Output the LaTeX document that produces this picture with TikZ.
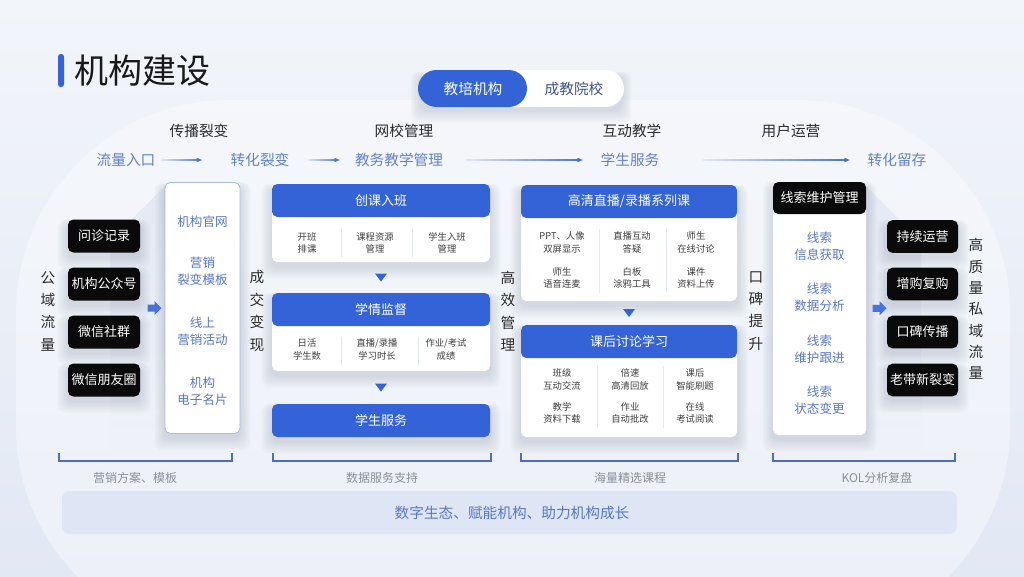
\documentclass[tikz,border=0pt]{standalone}
\usepackage{fontspec}
\setmainfont{Noto Sans CJK SC}
\usetikzlibrary{fadings,calc,arrows.meta}
\definecolor{bluehead}{HTML}{3463D8}
\definecolor{bluetext}{HTML}{5877C6}
\definecolor{bluerow}{HTML}{6282CB}
\definecolor{bluearrow}{HTML}{4A6FCF}
\definecolor{darktext}{HTML}{2B2B2B}
\definecolor{smalltext}{HTML}{3E3E3E}
\definecolor{graytext}{HTML}{8A8F99}
\definecolor{blackbox}{HTML}{0A0A0A}
\definecolor{bgtop}{HTML}{F2F5FA}
\definecolor{bgbot}{HTML}{E2E8F4}
\definecolor{bandfill}{HTML}{DCE4F5}
\definecolor{sepline}{HTML}{E4E8F0}
\definecolor{bracketcol}{HTML}{4D6CC2}
\definecolor{borderlight}{HTML}{A9BBE4}
\definecolor{toggletext}{HTML}{42538A}
\definecolor{longshadow}{HTML}{B3C0DC}
\definecolor{shadowcol}{HTML}{1E2A55}
\tikzfading[name=fadein, left color=transparent!90, right color=transparent!0]
\tikzfading[name=fadedown, top color=transparent!20, bottom color=transparent!100]
% soft shadow: centre x, centre y, width, height (all in px)
\newcommand\myshadow[4]{%
  \foreach \k in {1,...,7}{%
    \fill[shadowcol, opacity=0.018, rounded corners=6pt]
      ({#1-#3/2-\k*1.5},{#2-#4/2-\k*0.6+4}) rectangle ({#1+#3/2+\k*1.5},{#2+#4/2+\k*1.8+4});
  }}
\begin{document}
\begin{tikzpicture}[x=0.75pt,y=-0.75pt,
  every node/.style={inner sep=0pt, outer sep=0pt},
  hd/.style={text=darktext, font=\fontsize{11}{13}\selectfont},
  flow/.style={text=bluerow, font=\fontsize{11}{13}\selectfont},
  flowarrow/.style={draw=bluearrow, line width=0.9pt, -{Latex[length=4.5pt,width=4pt]}, path fading=fadein},
  vlabel/.style={text=darktext, align=center, font=\fontsize{11}{16.8}\selectfont},
  blk/.style={fill=blackbox, text=white, rounded corners=4pt, minimum width=54pt, minimum height=24.75pt, font=\fontsize{9.75}{12}\selectfont},
  whitecol/.style={fill=white, rounded corners=4pt},
  bluelist/.style={text=bluetext, align=center, font=\fontsize{9.4}{12.6}\selectfont},
  cardhead/.style={fill=bluehead, text=white, rounded corners=4pt, font=\fontsize{9.75}{12}\selectfont},
  sm/.style={text=smalltext, align=center, font=\fontsize{7}{9.5}\selectfont},
  sep/.style={draw=sepline, line width=0.6pt},
  tri/.style={fill=bluehead},
  fatarrow/.style={fill=bluehead!90!white},
  brk/.style={draw=bracketcol, line width=0.8pt},
  glabel/.style={text=graytext, font=\fontsize{9}{11}\selectfont}
]
% background
\useasboundingbox (0,0) rectangle (1024,576);
\shade[top color=bgtop, bottom color=bgbot] (0,0) rectangle (1024,576);
\fill[white, opacity=0.38, rounded corners=160pt] (16,100) rectangle (1010,640);

% long shadows behind the side columns
\fill[longshadow, opacity=0.28, path fading=fadedown] (165,186) -- (110,241) -- (110,450) -- (165,450) -- cycle;
\fill[longshadow, opacity=0.28, path fading=fadedown] (866,186) -- (921,241) -- (921,450) -- (866,450) -- cycle;

% title
\fill[bluehead, rounded corners=2pt] (58,54) rectangle (64,87);
\node[anchor=west, text=black!90, font=\fontsize{25.5}{28}\selectfont] (title) at (74,71) {机构建设};

% toggle
\myshadow{521}{89}{200}{34}
\node[fill=white, rounded corners=13.8pt, minimum width=154.5pt, minimum height=27.75pt] (toggle) at (521,88.5) {};
\node[fill=bluehead, rounded corners=13.8pt, minimum width=81.75pt, minimum height=27.75pt] (tgA) at (472.5,88.5) {};
\node[text=white, font=\fontsize{11}{13}\selectfont] (tgAt) at (473,89) {教培机构};
\node[text=toggletext, font=\fontsize{11}{13}\selectfont] (tgBt) at (574,89) {成教院校};

% headers
\node[hd] (h1) at (199,131) {传播裂变};
\node[hd] (h2) at (404,131) {网校管理};
\node[hd] (h3) at (632,131) {互动教学};
\node[hd] (h4) at (791,131) {用户运营};

% flow row
\node[flow] (f1) at (126,160) {流量入口};
\node[flow] (f2) at (260,160) {转化裂变};
\node[flow] (f3) at (399,160) {教务教学管理};
\node[flow] (f4) at (630,160) {学生服务};
\node[flow] (f5) at (897,160) {转化留存};
\draw[flowarrow] ([xshift=4.5pt]f1.east) -- ([xshift=-21pt]f2.west);
\draw[flowarrow] ([xshift=14pt]f2.east) -- ([xshift=-11pt]f3.west);
\draw[flowarrow] ([xshift=17pt]f3.east) -- ([xshift=-13pt]f4.west);
\draw[flowarrow] ([xshift=33pt]f4.east) -- ([xshift=-13pt]f5.west);

% vertical labels
\node[vlabel] (v1) at (48,311) {公\\域\\流\\量};
\node[vlabel] (v2) at (257,311) {成\\交\\变\\现};
\node[vlabel] (v3) at (508,311) {高\\效\\管\\理};
\node[vlabel] (v4) at (756,311) {口\\碑\\提\\升};
\node[vlabel, font=\fontsize{11}{16}\selectfont] (v5) at (976,309) {高\\质\\量\\私\\域\\流\\量};

% left black boxes
\myshadow{104}{236}{72}{33}
\myshadow{104}{284}{72}{33}
\myshadow{104}{332}{72}{33}
\myshadow{104}{380}{72}{33}
\node[blk] (l1) at (104,236) {问诊记录};
\node[blk] (l2) at (104,284) {机构公众号};
\node[blk] (l3) at (104,332) {微信社群};
\node[blk] (l4) at (104,380) {微信朋友圈};

% left white column
\myshadow{202.5}{308}{75}{251}
\node[whitecol, draw=borderlight, line width=0.6pt, minimum width=56.25pt, minimum height=188.25pt] (wc1) at (202.5,308) {};
\node[bluelist] (w11) at (202.5,222) {机构官网};
\node[bluelist] (w12) at (202.5,271.5) {营销\\裂变模板};
\node[bluelist] (w13) at (202.5,331) {线上\\营销活动};
\node[bluelist] (w14) at (202.5,391) {机构\\电子名片};

% fat arrow left
\coordinate (la) at ($(l2.east)!0.5!(wc1.west)+(2,12)$);
\fill[fatarrow] ($(la)+(-7,-3.5)$) -- ($(la)+(0,-3.5)$) -- ($(la)+(0,-7)$) -- ($(la)+(7,0)$) -- ($(la)+(0,7)$) -- ($(la)+(0,3.5)$) -- ($(la)+(-7,3.5)$) -- cycle;

% column 1 cards
\myshadow{381}{223}{218}{78}
\myshadow{381}{332}{218}{78}
\myshadow{381}{420.5}{218}{33}
\node[whitecol, minimum width=163.5pt, minimum height=58.5pt] (c1) at (381,223) {};
\node[cardhead, minimum width=163.5pt, minimum height=24.75pt] (c1h) at (381,200.5) {创课入班};
\node[sm] (c1a) at (307,243) {开班\\排课};
\node[sm] (c1b) at (375,243) {课程资源\\管理};
\node[sm] (c1c) at (447,243) {学生入班\\管理};
\draw[sep] (341,229) -- (341,257);
\draw[sep] (412,229) -- (412,257);

\node[whitecol, minimum width=163.5pt, minimum height=58.5pt] (c2) at (381,332) {};
\node[cardhead, minimum width=163.5pt, minimum height=24.75pt] (c2h) at (381,309.5) {学情监督};
\node[sm] (c2a) at (307,349.5) {日活\\学生数};
\node[sm] (c2b) at (377,349.5) {直播/录播\\学习时长};
\node[sm] (c2c) at (446,349.5) {作业/考试\\成绩};
\draw[sep] (341,337) -- (341,366);
\draw[sep] (418,337) -- (418,366);

\node[cardhead, minimum width=163.5pt, minimum height=24.75pt] (c3h) at (381,420.5) {学生服务};

\path (c1.south) -- (c2h.north) coordinate[midway] (t1);
\path (c2.south) -- (c3h.north) coordinate[midway] (t2);
\fill[tri] ($(t1)+(-6,-4)$) -- ($(t1)+(6,-4)$) -- ($(t1)+(0,4)$) -- cycle;
\fill[tri] ($(t2)+(-6,-4)$) -- ($(t2)+(6,-4)$) -- ($(t2)+(0,4)$) -- cycle;

% column 2 cards
\myshadow{629}{243}{216}{116}
\myshadow{629}{381}{216}{112}
\node[whitecol, minimum width=162pt, minimum height=87pt] (d1) at (629,243) {};
\node[cardhead, minimum width=162pt, minimum height=24.75pt] (d1h) at (629,201.5) {高清直播/录播系列课};
\node[sm] (d1a) at (562,242.5) {PPT、人像\\双屏显示};
\node[sm] (d1b) at (632,242.5) {直播互动\\答疑};
\node[sm] (d1c) at (696,242.5) {师生\\在线讨论};
\node[sm] (d1d) at (562,278) {师生\\语音连麦};
\node[sm] (d1e) at (632,278) {白板\\涂鸦工具};
\node[sm] (d1f) at (696,278) {课件\\资料上传};
\draw[sep] (599,229) -- (599,293);
\draw[sep] (666,229) -- (666,293);

\node[whitecol, minimum width=162pt, minimum height=84pt] (d2) at (629,381) {};
\node[cardhead, minimum width=162pt, minimum height=24.75pt] (d2h) at (629,341.5) {课后讨论学习};
\node[sm] (d2a) at (562,379.5) {班级\\互动交流};
\node[sm] (d2b) at (630,379.5) {倍速\\高清回放};
\node[sm] (d2c) at (695,379.5) {课后\\智能刷题};
\node[sm] (d2d) at (562,413) {教学\\资料下载};
\node[sm] (d2e) at (630,413) {作业\\自动批改};
\node[sm] (d2f) at (695,413) {在线\\考试阅读};
\draw[sep] (597,366) -- (597,428);
\draw[sep] (663,366) -- (663,428);

\path (d1.south) -- (d2h.north) coordinate[midway] (t3);
\fill[tri] ($(t3)+(-6,-4)$) -- ($(t3)+(6,-4)$) -- ($(t3)+(0,4)$) -- cycle;

% right white column
\myshadow{819.5}{308.5}{93}{253}
\node[whitecol, minimum width=69.75pt, minimum height=189.75pt] (wc2) at (819.5,308.5) {};
\node[fill=blackbox, text=white, rounded corners=4pt, minimum width=69.75pt, minimum height=24pt, font=\fontsize{9.75}{12}\selectfont] (wc2h) at (819.5,198) {线索维护管理};
\node[bluelist, font=\fontsize{9.4}{12.75}\selectfont] (w21) at (819.5,246.5) {线索\\信息获取};
\node[bluelist, font=\fontsize{9.4}{12.75}\selectfont] (w22) at (819.5,297.5) {线索\\数据分析};
\node[bluelist, font=\fontsize{9.4}{12.75}\selectfont] (w23) at (819.5,349.5) {线索\\维护跟进};
\node[bluelist, font=\fontsize{9.4}{12.75}\selectfont] (w24) at (819.5,400) {线索\\状态变更};

% right black boxes
\myshadow{922.5}{236.5}{71}{32.5}
\myshadow{922.5}{284}{71}{32.5}
\myshadow{922.5}{332}{71}{32.5}
\myshadow{922.5}{380}{71}{32.5}
\node[blk, minimum width=53.25pt, minimum height=24.4pt] (r1) at (922.5,236.5) {持续运营};
\node[blk, minimum width=53.25pt, minimum height=24.4pt] (r2) at (922.5,284) {增购复购};
\node[blk, minimum width=53.25pt, minimum height=24.4pt] (r3) at (922.5,332) {口碑传播};
\node[blk, minimum width=53.25pt, minimum height=24.4pt] (r4) at (922.5,380) {老带新裂变};

% fat arrow right
\coordinate (ra) at ($(wc2.east)!0.5!(r2.west)+(3,12)$);
\fill[fatarrow] ($(ra)+(-7,-3.5)$) -- ($(ra)+(0,-3.5)$) -- ($(ra)+(0,-7)$) -- ($(ra)+(7,0)$) -- ($(ra)+(0,7)$) -- ($(ra)+(0,3.5)$) -- ($(ra)+(-7,3.5)$) -- cycle;

% brackets
\draw[brk] (59,453) -- (59,461) -- (232,461) -- (232,453);
\draw[brk] (273,453) -- (273,461) -- (491,461) -- (491,453);
\draw[brk] (521,453) -- (521,461) -- (738,461) -- (738,453);
\draw[brk] (773,453) -- (773,461) -- (955,461) -- (955,453);
\node[glabel] (g1) at (135,478) {营销方案、模板};
\node[glabel] (g2) at (382,478) {数据服务支持};
\node[glabel] (g3) at (630,478) {海量精选课程};
\node[glabel] (g4) at (877,478) {KOL分析复盘};

% bottom band
\node[fill=bandfill, opacity=0.85, rounded corners=6pt, minimum width=671.25pt, minimum height=32.25pt] (band) at (509.5,512.5) {};
\node[text=bluetext, font=\fontsize{11}{13}\selectfont] (bandt) at (512,513) {数字生态、赋能机构、助力机构成长};
\end{tikzpicture}
\end{document}
